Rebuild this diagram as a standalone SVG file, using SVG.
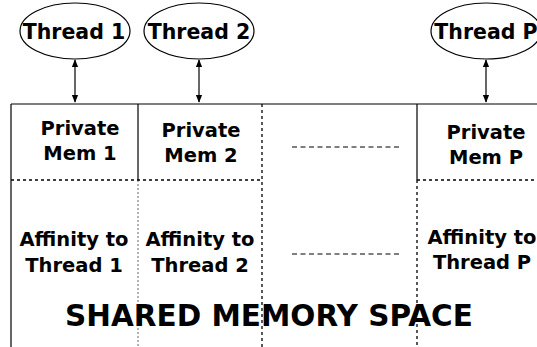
<svg xmlns="http://www.w3.org/2000/svg" width="537" height="347" viewBox="0 0 537 347">
<defs>
<marker id="ah" viewBox="0 0 10 10" refX="9" refY="5" markerWidth="8" markerHeight="8" orient="auto-start-reverse" markerUnits="userSpaceOnUse">
<path d="M0,1 L10,5 L0,9 Z" fill="#000"/>
</marker>
</defs>
<style>
text{font-family:"DejaVu Sans","Liberation Sans",sans-serif;font-weight:bold;fill:#000;text-anchor:middle}
.th{font-size:20.5px}
.lb{font-size:19.5px}
.big{font-size:29.5px}
.solid{stroke:#000;stroke-width:1.2;fill:none}
.dot{stroke:#000;stroke-width:1.3;stroke-dasharray:3,3;fill:none}
.gdot{stroke:#666;stroke-width:1;stroke-dasharray:2,2;fill:none}
.dash{stroke:#000;stroke-width:1.2;stroke-dasharray:5,3.5;fill:none}
.ell{fill:#fff;stroke:#000;stroke-width:1.2}
</style>
<g id="memory">
<line class="solid" x1="11" y1="104" x2="537" y2="104"/>
<line class="solid" x1="11" y1="104" x2="11" y2="347"/>
<line class="solid" x1="138" y1="104" x2="138" y2="180"/>
<line class="gdot" x1="138" y1="180" x2="138" y2="347"/>
<line class="dot" x1="262" y1="104" x2="262" y2="347"/>
<line class="solid" x1="417" y1="104" x2="417" y2="180"/>
<line class="dot" x1="417" y1="180" x2="417" y2="347"/>
<line class="dot" x1="11" y1="180" x2="262" y2="180"/>
<line class="dot" x1="417" y1="180" x2="537" y2="180"/>
<line class="dash" x1="292" y1="147" x2="400" y2="147"/>
<line class="dash" x1="292" y1="254" x2="400" y2="254"/>
<text class="big" x="269" y="326">SHARED MEMORY SPACE</text>
</g>
<g id="thread1">
<ellipse class="ell" cx="75" cy="31" rx="55" ry="28"/>
<text class="th" x="74" y="39">Thread 1</text>
</g>
<g id="thread2">
<ellipse class="ell" cx="199" cy="31" rx="55" ry="28"/>
<text class="th" x="199" y="39">Thread 2</text>
</g>
<g id="threadP">
<ellipse class="ell" cx="486" cy="31" rx="55" ry="28"/>
<text class="th" x="486" y="39">Thread P</text>
</g>
<g id="priv1">
<text class="lb" x="80" y="135">Private</text>
<text class="lb" x="80" y="160">Mem 1</text>
</g>
<g id="priv2">
<text class="lb" x="201" y="137">Private</text>
<text class="lb" x="201" y="162">Mem 2</text>
</g>
<g id="privP">
<text class="lb" x="486" y="139">Private</text>
<text class="lb" x="486" y="164">Mem P</text>
</g>
<g id="aff1">
<text class="lb" x="74" y="246">Affinity to</text>
<text class="lb" x="74" y="272">Thread 1</text>
</g>
<g id="aff2">
<text class="lb" x="200" y="246">Affinity to</text>
<text class="lb" x="200" y="272">Thread 2</text>
</g>
<g id="affP">
<text class="lb" x="482" y="244">Affinity to</text>
<text class="lb" x="482" y="269">Thread P</text>
</g>
<g id="connectors">
<line class="solid" x1="75" y1="60" x2="75" y2="102" marker-start="url(#ah)" marker-end="url(#ah)"/>
<line class="solid" x1="199" y1="60" x2="199" y2="102" marker-start="url(#ah)" marker-end="url(#ah)"/>
<line class="solid" x1="486" y1="60" x2="486" y2="102" marker-start="url(#ah)" marker-end="url(#ah)"/>
</g>
</svg>
